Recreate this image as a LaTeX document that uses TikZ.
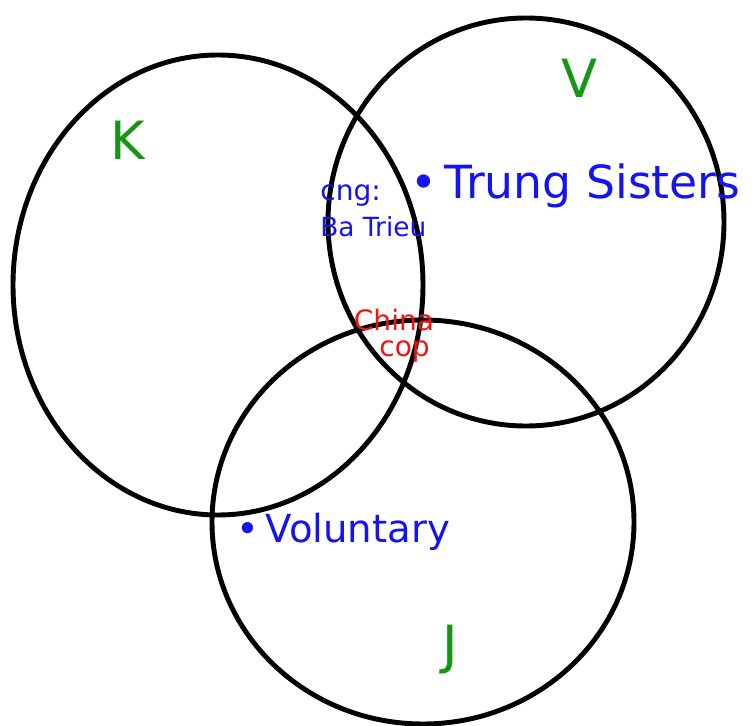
\documentclass[tikz,border=0pt]{standalone}
\usepackage{fontspec}
\setmainfont{DejaVu Sans}
\usetikzlibrary{positioning}

\definecolor{penblue}{RGB}{20,20,240}
\definecolor{pengreen}{RGB}{20,150,20}
\definecolor{penred}{RGB}{240,20,20}

\begin{document}
\begin{tikzpicture}[
  x=0.02cm, y=-0.02cm,
  ring/.style={draw=black, line width=2.8pt},
  letter/.style={text=pengreen, font=\fontsize{30}{30}\selectfont, inner sep=0pt},
  note/.style={text=penblue, inner sep=0pt, anchor=west},
  redtext/.style={text=penred, inner sep=0pt, font=\fontsize{16}{16}\selectfont}
]
  \useasboundingbox (0,0) rectangle (754,726);

  % the three circles
  \draw[ring] (218,285) ellipse [x radius=205, y radius=230];
  \draw[ring] (526,222) ellipse [x radius=198, y radius=204];
  \draw[ring] (423,522) ellipse [x radius=211, y radius=202];

  % circle letters
  \node[letter] (k) at (128,140) {K};
  \node[letter] (v) at (580,78) {V};
  \node[letter] (j) at (450,650) {J};

  % notes
  \node[note, font=\fontsize{16}{16}\selectfont] (cng) at (320,196) {cng:};
  \node[note, font=\fontsize{15}{15}\selectfont, below=5pt of cng.south west, anchor=north west] (trieu) {Ba Trieu};
  \node[note, font=\fontsize{26}{26}\selectfont] (trung) at (410,186) {•\,Trung Sisters};
  \node[note, font=\fontsize{22}{22}\selectfont] (vol) at (236,532) {•\,Voluntary};

  % centre
  \node[redtext] (china) at (394,320) {China};
  \node[redtext, below=5pt of china, xshift=6pt] (cop) {cop};
\end{tikzpicture}
\end{document}
